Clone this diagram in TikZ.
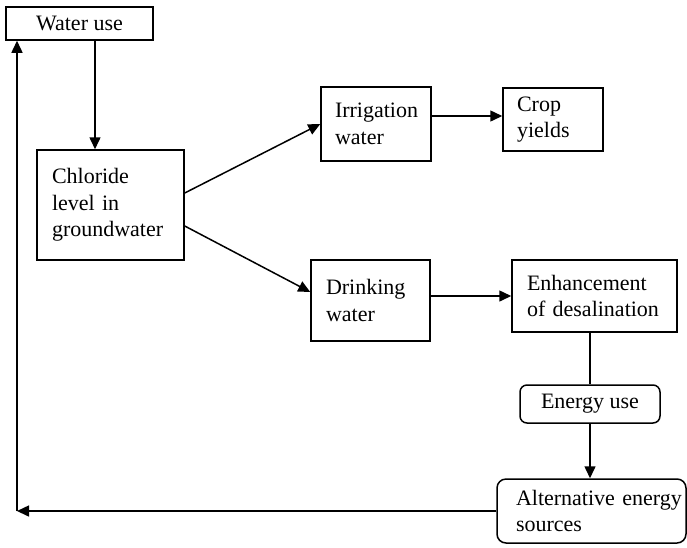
\documentclass[tikz,border=0pt]{standalone}
\usepackage{fontspec}
\setmainfont{Liberation Serif}
\usetikzlibrary{arrows.meta}
\hyphenpenalty=10000
\exhyphenpenalty=10000
\begin{document}
\begin{tikzpicture}[x=1pt,y=-1pt,
  box/.style={draw, line width=1.5pt, inner xsep=0pt, inner ysep=0pt,
    font=\fontsize{22}{26.5}\selectfont},
  lbox/.style={box, align=left},
  arr/.style={line width=1.5pt, -{Triangle[length=12pt,width=11pt]}},
  ln/.style={line width=1.5pt}]
\useasboundingbox (0,0) rectangle (687,547);

\node[box, align=center, minimum width=147pt, minimum height=33pt] (water) at (79.5,23.5) {Water use};
\node[lbox, minimum width=147pt, minimum height=110pt, text width=117pt] (chl) at (110.5,205) {Chloride\\level in\\groundwater};
\node[lbox, minimum width=110pt, minimum height=74pt, text width=82pt] (irr) at (376,124) {\mbox{Irrigation}\\water};
\node[lbox, minimum width=100pt, minimum height=63pt, text width=72pt] (crop) at (553,119.5) {Crop\\yields};
\node[lbox, minimum width=119pt, minimum height=81pt, text width=89pt] (drink) at (370.5,300.5) {Drinking\\water};
\node[lbox, minimum width=165pt, minimum height=72pt, text width=135pt] (enh) at (594.5,296) {Enhancement\\\mbox{of desalination}};
\node[box, rounded corners=7pt, align=center, minimum width=140pt, minimum height=38pt] (energy) at (590,404) {Energy use};
\node[box, rounded corners=9pt, align=left, minimum width=189pt, minimum height=64pt, text width=151pt] (alt) at (591.5,511) {\mbox{Alternative energy}\\sources};
\coordinate (corner) at (17,511);

\draw[arr] ([xshift=15.5pt]water.south) -- ([xshift=15.5pt]water.south |- chl.north);
\draw[arr] ([yshift=12pt]chl.east) -- (irr.west);
\draw[arr] ([yshift=-21pt]chl.east) -- ([yshift=8.5pt]drink.west);
\draw[arr] ([yshift=8pt]irr.east) -- ([yshift=8pt]irr.east -| crop.west);
\draw[arr] (drink.east |- enh.west) -- (enh.west);
\draw[ln] (enh.south -| energy.north) -- (energy.north);
\draw[arr] (energy.south) -- (energy.south |- alt.north);
\draw[arr] (alt.west) -- (corner);
\draw[arr] (corner) -- (corner |- water.south);
\end{tikzpicture}
\end{document}
